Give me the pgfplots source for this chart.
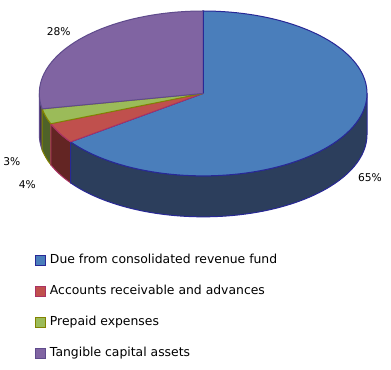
\documentclass[border=0pt]{standalone}
\usepackage{pgfplots}
\usepackage{pgfplotstable}
\pgfplotsset{compat=1.18}
\usepackage{fontspec}
\setmainfont{DejaVu Sans}
\definecolor{topblue}{RGB}{74,126,187}
\definecolor{sideblue}{RGB}{44,62,92}
\definecolor{edgeblue}{RGB}{40,40,150}
\definecolor{topred}{RGB}{192,80,77}
\definecolor{sidered}{RGB}{99,37,35}
\definecolor{edgered}{RGB}{170,50,100}
\definecolor{topgreen}{RGB}{155,187,89}
\definecolor{sidegreen}{RGB}{79,98,40}
\definecolor{edgegreen}{RGB}{130,130,0}
\definecolor{toppurple}{RGB}{128,100,162}
\definecolor{sidepurple}{RGB}{64,49,82}
\definecolor{edgepurple}{RGB}{95,75,140}
\newcommand\legfont{\fontsize{12.4}{14}\selectfont}
\newcommand\labfont{\fontsize{10.7}{12}\selectfont}

\pgfplotstableread{
part value
Due 65
Acc 4
Pre 3
Tan 28
}\piedata
\pgfplotstablegetelem{0}{value}\of\piedata \let\vA\pgfplotsretval
\pgfplotstablegetelem{1}{value}\of\piedata \let\vB\pgfplotsretval
\pgfplotstablegetelem{2}{value}\of\piedata \let\vC\pgfplotsretval
\pgfplotstablegetelem{3}{value}\of\piedata \let\vD\pgfplotsretval
\pgfmathsetmacro\aA{90}
\pgfmathsetmacro\aB{\aA-3.6*\vA}
\pgfmathsetmacro\aC{\aB-3.6*\vB}
\pgfmathsetmacro\aD{\aC-3.6*\vC}
\pgfmathsetmacro\aE{\aD-3.6*\vD}
\def\cx{203}
\def\cy{276.5}
\def\rx{164}
\def\ry{82.5}

\begin{document}
\begin{tikzpicture}
\begin{axis}[
  scale only axis, width=391pt, height=370pt,
  xmin=0, xmax=391, ymin=0, ymax=370,
  axis lines=none, ticks=none, clip=false,
  legend style={at={(axis cs:32,117)}, anchor=north west, draw=none, fill=none,
    font=\legfont, row sep=19pt, column sep=3.5pt,
    nodes={inner sep=0pt, text height=9pt, text depth=3pt}},
  legend cell align=left,
  legend image code/.code={\draw[#1,line width=1pt] (0pt,-5pt) rectangle (10pt,5pt);},
]
\path (axis cs:0,0) -- (axis cs:391,370);
% side faces
\addplot[forget plot, fill=sidepurple, draw=edgepurple, line width=1pt, domain=-180:\aD, samples=10, variable=\t]
  ({\cx+\rx*cos(\t)},{\cy+\ry*sin(\t)}) -- ++(0pt,-41pt) arc[start angle=\aD, end angle=-180, x radius=164pt, y radius=82.5pt] -- cycle;
\addplot[forget plot, fill=sidegreen, draw=edgegreen, line width=1pt, domain=\aD:\aC, samples=10, variable=\t]
  ({\cx+\rx*cos(\t)},{\cy+\ry*sin(\t)}) -- ++(0pt,-41pt) arc[start angle=\aC, end angle=\aD, x radius=164pt, y radius=82.5pt] -- cycle;
\addplot[forget plot, fill=sidered, draw=edgered, line width=1pt, domain=\aC:\aB, samples=10, variable=\t]
  ({\cx+\rx*cos(\t)},{\cy+\ry*sin(\t)}) -- ++(0pt,-41pt) arc[start angle=\aB, end angle=\aC, x radius=164pt, y radius=82.5pt] -- cycle;
\addplot[forget plot, fill=sideblue, draw=edgeblue, line width=1pt, domain=\aB:0, samples=60, variable=\t]
  ({\cx+\rx*cos(\t)},{\cy+\ry*sin(\t)}) -- ++(0pt,-41pt) arc[start angle=0, end angle=\aB, x radius=164pt, y radius=82.5pt] -- cycle;
% top faces
\addplot[fill=topblue, draw=edgeblue, line width=1pt, domain=\aB:\aA, samples=100, variable=\t]
  ({\cx+\rx*cos(\t)},{\cy+\ry*sin(\t)}) -- (axis cs:\cx,\cy) -- cycle;
\addlegendentry{Due from consolidated revenue fund}
\addplot[fill=topred, draw=edgered, line width=1pt, domain=\aC:\aB, samples=10, variable=\t]
  ({\cx+\rx*cos(\t)},{\cy+\ry*sin(\t)}) -- (axis cs:\cx,\cy) -- cycle;
\addlegendentry{Accounts receivable and advances}
\addplot[fill=topgreen, draw=edgegreen, line width=1pt, domain=\aD:\aC, samples=10, variable=\t]
  ({\cx+\rx*cos(\t)},{\cy+\ry*sin(\t)}) -- (axis cs:\cx,\cy) -- cycle;
\addlegendentry{Prepaid expenses}
\addplot[fill=toppurple, draw=edgepurple, line width=1pt, domain=\aE:\aD, samples=50, variable=\t]
  ({\cx+\rx*cos(\t)},{\cy+\ry*sin(\t)}) -- (axis cs:\cx,\cy) -- cycle;
\addlegendentry{Tangible capital assets}
\draw[edgeblue, line width=1pt] (axis cs:\cx,\cy) -- (axis cs:\cx,{\cy+\ry});
% percentage labels
\node[font=\labfont] at (axis cs:370,192) {65\%};
\node[font=\labfont] at (axis cs:58.5,338) {28\%};
\node[font=\labfont] at (axis cs:11.5,208) {3\%};
\node[font=\labfont] at (axis cs:27,185) {4\%};
\end{axis}
\end{tikzpicture}
\end{document}
